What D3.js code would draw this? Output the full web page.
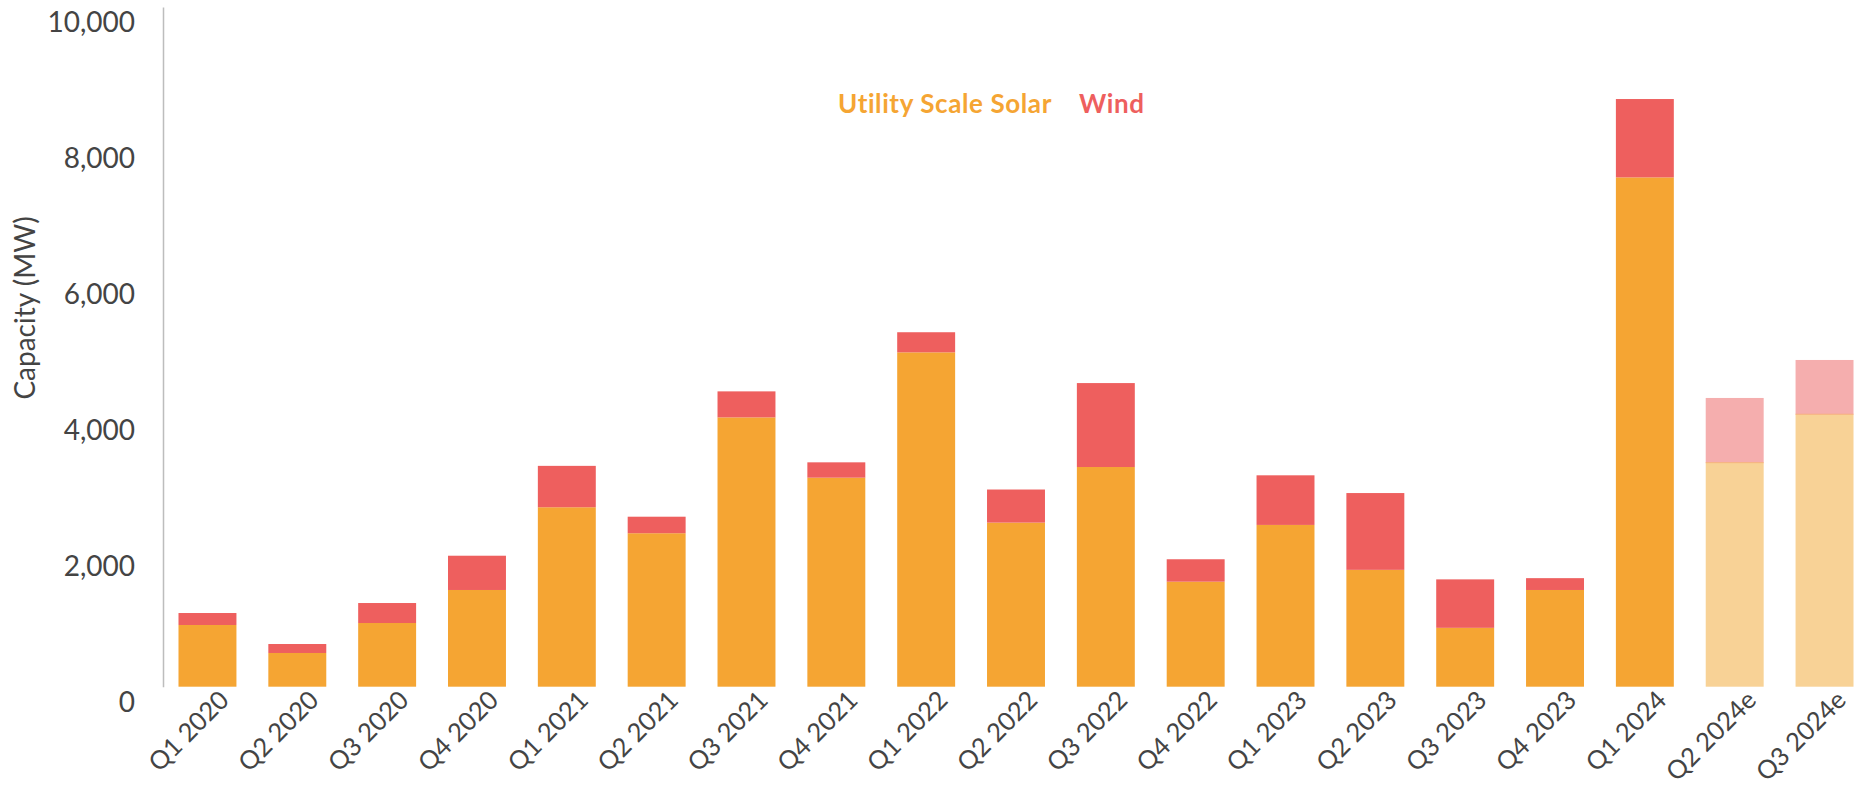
<!DOCTYPE html>
<html>
<head>
<meta charset="utf-8">
<script src="https://cdn.jsdelivr.net/npm/d3@7/dist/d3.min.js"></script>
<style>
  html, body { margin: 0; padding: 0; background: #fff; }
  svg { display: block; font-family: Lato, "Noto Sans", sans-serif; }
</style>
</head>
<body>
<svg id="chart" width="1854" height="790"></svg>
<script>
const categories = ["Q1 2020","Q2 2020","Q3 2020","Q4 2020","Q1 2021","Q2 2021","Q3 2021","Q4 2021","Q1 2022","Q2 2022","Q3 2022","Q4 2022","Q1 2023","Q2 2023","Q3 2023","Q4 2023","Q1 2024","Q2 2024e","Q3 2024e"];
const solar = [908, 496, 937, 1423, 2640, 2258, 3962, 3075, 4919, 2414, 3232, 1545, 2380, 1719, 866, 1423, 7493, 3296, 4008];
const wind  = [176, 132, 294, 504, 609, 243, 383, 226, 296, 487, 1235, 330, 730, 1130, 713, 174, 1153, 952, 799];
const estimated = [false,false,false,false,false,false,false,false,false,false,false,false,false,false,false,false,false,true,true];
const yTicks = [0, 2000, 4000, 6000, 8000, 10000];
const seriesNames = ["Utility Scale Solar", "Wind"];
const colors = { solar: "#F5A533", wind: "#EE5F5E", solarEst: "#F8D296", windEst: "#F5AEAE" };

const svg = d3.select("#chart");
const axisX = 163, y0 = 686.7, yTop = 7;
const FONT = "Lato, 'Noto Sans', sans-serif";

const x = d3.scaleBand().domain(categories).range([axisX, 1869]).paddingInner(0.355).paddingOuter(0.1725);
const y = d3.scaleLinear().domain([0, 10000]).range([y0, yTop]);

const rows = categories.map((c, i) => ({ c, solar: solar[i], wind: wind[i], est: estimated[i] }));

const g = svg.append("g");
g.selectAll("rect.solar").data(rows).join("rect")
  .attr("class", "solar")
  .attr("x", d => x(d.c)).attr("width", x.bandwidth())
  .attr("y", d => y(d.solar)).attr("height", d => y(0) - y(d.solar))
  .attr("fill", d => d.est ? colors.solarEst : colors.solar);
g.selectAll("rect.wind").data(rows).join("rect")
  .attr("class", "wind")
  .attr("x", d => x(d.c)).attr("width", x.bandwidth())
  .attr("y", d => y(d.solar + d.wind)).attr("height", d => y(d.solar) - y(d.solar + d.wind))
  .attr("fill", d => d.est ? colors.windEst : colors.wind);
g.selectAll("line.sep").data(rows.filter(d => d.est)).join("line")
  .attr("class", "sep")
  .attr("x1", d => x(d.c)).attr("x2", d => x(d.c) + x.bandwidth())
  .attr("y1", d => y(d.solar)).attr("y2", d => y(d.solar))
  .attr("stroke", "#F6B27A").attr("stroke-width", 1);

// y axis
const yAxis = d3.axisLeft(y).tickValues(yTicks).tickSize(0).tickFormat(d3.format(","));
const ya = svg.append("g").attr("transform", `translate(${axisX},0)`).call(yAxis)
  .attr("font-family", FONT).attr("font-size", 28);
ya.select(".domain").attr("stroke", "#bdbdbd").attr("stroke-width", 1.5);
ya.selectAll("text").attr("x", -28).attr("dy", "0.35em").attr("transform", "translate(0,14.5)")
  .attr("fill", "#444");

// x axis labels
const xAxis = d3.axisBottom(x).tickSize(0);
const xa = svg.append("g").attr("transform", `translate(0,${y0})`).call(xAxis)
  .attr("font-family", FONT).attr("font-size", 25.5);
xa.select(".domain").remove();
xa.selectAll("text")
  .attr("fill", "#444")
  .attr("text-anchor", "end").attr("y", 0).attr("dy", 0)
  .attr("transform", "translate(23,15) rotate(-45)");

// y title
svg.append("text")
  .attr("transform", `translate(35,${308}) rotate(-90)`)
  .attr("text-anchor", "middle").attr("font-size", 28).attr("fill", "#444")
  .text("Capacity (MW)");

// legend
const legend = svg.append("g").attr("font-size", 26).attr("font-weight", 700).attr("letter-spacing", 0.6);
legend.append("text").attr("x", 838).attr("y", 113).attr("fill", colors.solar).text(seriesNames[0]);
legend.append("text").attr("x", 1079).attr("y", 113).attr("fill", colors.wind).text(seriesNames[1]);
</script>
</body>
</html>
